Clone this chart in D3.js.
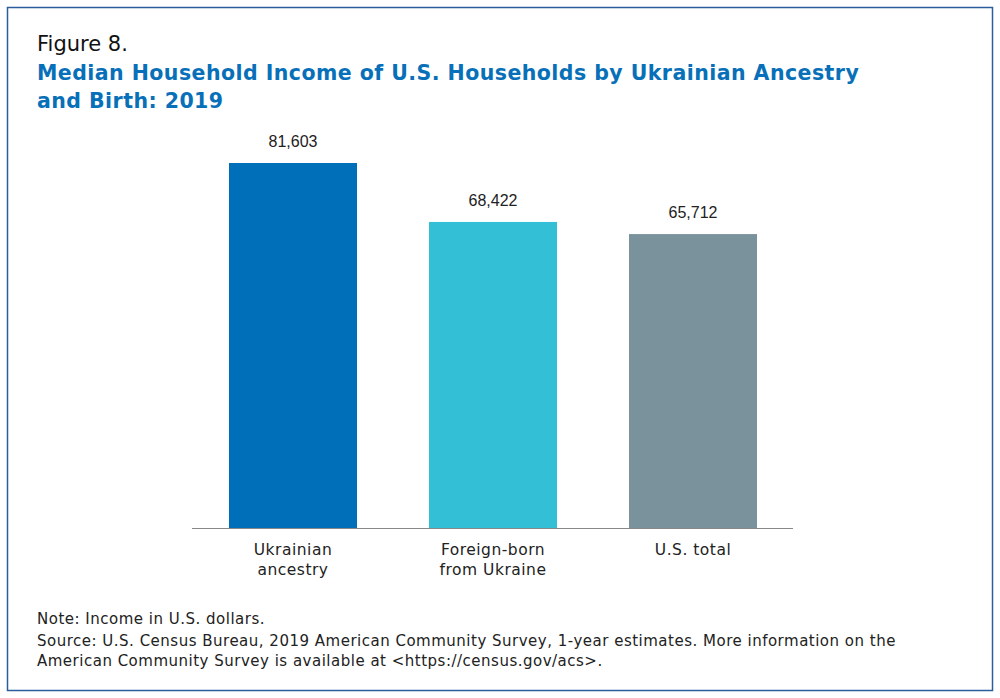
<!DOCTYPE html>
<html>
<head>
<meta charset="utf-8">
<script src="https://cdn.jsdelivr.net/npm/d3@7"></script>
<style>
  body { margin: 0; background: #fff; }
  text { font-family: "DejaVu Sans", sans-serif; }
  text.val { font-family: "Liberation Sans", Arial, sans-serif; }
</style>
</head>
<body>
<div class="canva"></div>
<script>
const categories = [["Ukrainian", "ancestry"], ["Foreign-born", "from Ukraine"], ["U.S. total"]];
const incomes = [81603, 68422, 65712];
const barColors = ["#006fb9", "#33c0d7", "#7a929c"];
const noteLines = [
  "Note: Income in U.S. dollars.",
  "Source: U.S. Census Bureau, 2019 American Community Survey, 1-year estimates. More information on the",
  "American Community Survey is available at <https://census.gov/acs>."
];

const svg = d3.select(".canva").append("svg")
            .attr("width", 1000)
            .attr("height", 698);

svg.append("rect")
    .attr("x", 7.5).attr("y", 7.5)
    .attr("width", 985).attr("height", 683)
    .attr("fill", "none")
    .attr("stroke", "#2b5d9c")
    .attr("stroke-width", 1.5);

svg.append("text")
    .attr("x", 37).attr("y", 51)
    .attr("font-size", 21)
    .attr("fill", "#111")
    .text("Figure 8.");

const title = svg.append("text")
    .attr("font-size", 20.5)
    .attr("font-weight", "bold")
    .attr("letter-spacing", 0.45)
    .attr("fill", "#0870b8");
title.append("tspan").attr("x", 37).attr("y", 80)
    .text("Median Household Income of U.S. Households by Ukrainian Ancestry");
title.append("tspan").attr("x", 37).attr("y", 108)
    .text("and Birth: 2019");

const x = d3.scaleBand()
        .domain(d3.range(incomes.length))
        .range([193, 793])
        .paddingInner(0.36)
        .paddingOuter(0.18);

const y = d3.scaleLinear()
        .domain([0, 81603])
        .range([528, 163]);

svg.selectAll("rect.bar")
    .data(incomes)
    .enter().append("rect")
    .attr("class", "bar")
    .attr("x", (d, i) => x(i))
    .attr("y", d => y(d))
    .attr("width", x.bandwidth())
    .attr("height", d => y(0) - y(d))
    .attr("fill", (d, i) => barColors[i]);

svg.selectAll("text.val")
    .data(incomes)
    .enter().append("text")
    .attr("class", "val")
    .attr("x", (d, i) => x(i) + x.bandwidth() / 2)
    .attr("y", d => y(d) - 16)
    .attr("text-anchor", "middle")
    .attr("font-size", 16)
    .attr("fill", "#222")
    .text(d => d3.format(",")(d));

svg.append("line")
    .attr("x1", 192).attr("x2", 793)
    .attr("y1", y(0) + 0.5).attr("y2", y(0) + 0.5)
    .attr("stroke", "#888")
    .attr("stroke-width", 1.2);

const cat = svg.selectAll("text.cat")
    .data(categories)
    .enter().append("text")
    .attr("class", "cat")
    .attr("text-anchor", "middle")
    .attr("font-size", 15.5)
    .attr("letter-spacing", 0.5)
    .attr("fill", "#222");
cat.selectAll("tspan")
    .data((d, i) => d.map(line => ({line, i})))
    .enter().append("tspan")
    .attr("x", d => x(d.i) + x.bandwidth() / 2)
    .attr("y", (d, j) => 555 + j * 20)
    .text(d => d.line);

svg.selectAll("text.note")
    .data(noteLines)
    .enter().append("text")
    .attr("class", "note")
    .attr("x", 37)
    .attr("y", (d, i) => [624, 646, 666][i])
    .attr("font-size", 15)
    .attr("letter-spacing", 0.5)
    .attr("fill", "#222")
    .text(d => d);
</script>
</body>
</html>
